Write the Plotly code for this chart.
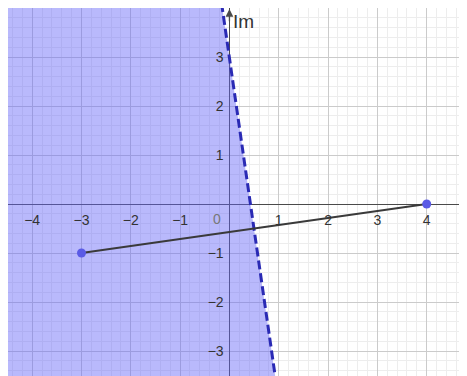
import plotly.graph_objects as go

# points z1 = -3 - i and z2 = 4 on the complex plane
seg_re = [-3, 4]
seg_im = [-1, 0]

# dashed boundary (perpendicular bisector)
boundary_re = [-0.16, 0.94]
boundary_im = [4.1, -3.6]

# shaded half-plane (left of the boundary)
shade_re = [-5, -0.16, 0.94, -5]
shade_im = [4.1, 4.1, -3.6, -3.6]

x_ticks = [-4, -3, -2, -1, 1, 2, 3, 4]
y_ticks = [-3, -2, -1, 1, 2, 3]

# the page keeps its 8px body margin, so the view starts a little in
X_RANGE = [-4.49, 4.817]
Y_RANGE = [-3.51, 4.0]

AXIS_COLOR = '#4a4a4a'
TEXT_COLOR = '#333333'
FONT = 'Arial, Liberation Sans'

fig = go.Figure()

fig.add_trace(go.Scatter(
    x=shade_re, y=shade_im, mode='lines', fill='toself',
    fillcolor='rgba(100,100,248,0.45)', line=dict(width=0),
    hoverinfo='skip', showlegend=False,
))

fig.add_trace(go.Scatter(
    x=boundary_re, y=boundary_im, mode='lines',
    line=dict(color='#2a2ab4', width=3, dash='9px,4px'),
    showlegend=False,
))

fig.add_trace(go.Scatter(
    x=seg_re, y=seg_im, mode='lines+markers',
    line=dict(color='#3a3a3a', width=2),
    marker=dict(size=9, color='#5a5ae6', line=dict(width=0)),
    showlegend=False,
))

x_pos = (0 - Y_RANGE[0]) / (Y_RANGE[1] - Y_RANGE[0])
y_pos = (0 - X_RANGE[0]) / (X_RANGE[1] - X_RANGE[0])

common = dict(
    showgrid=True, gridcolor='#cbcbcb', gridwidth=1,
    zeroline=True, zerolinecolor=AXIS_COLOR, zerolinewidth=1.3,
    showline=False, ticks='outside', ticklen=3, tickcolor='rgba(0,0,0,0)',
    tickfont=dict(family=FONT, size=14, color=TEXT_COLOR),
    minor=dict(dtick=0.2, showgrid=True, gridcolor='#ededed', gridwidth=1),
    anchor='free', fixedrange=True,
)

fig.update_xaxes(range=X_RANGE, tickvals=x_ticks, position=x_pos, **common)
fig.update_yaxes(range=Y_RANGE, tickvals=y_ticks, position=y_pos, **common)

# origin label and axis names
fig.add_annotation(x=0, y=0, text='0', showarrow=False, xanchor='right', yanchor='top',
                   xshift=-6, yshift=-5,
                   font=dict(family=FONT, size=14, color='#777777'))
fig.add_annotation(x=4.83, y=0, text='Re', showarrow=False, xanchor='right', yanchor='bottom',
                   yshift=-1, font=dict(family=FONT, size=19, color=TEXT_COLOR))
fig.add_annotation(x=0, y=4.0, text='Im', showarrow=False, xanchor='left', yanchor='top',
                   xshift=2, yshift=-1,
                   font=dict(family=FONT, size=19, color=TEXT_COLOR))
fig.add_annotation(x=0, y=3.98, ax=0, ay=3.7, xref='x', yref='y', axref='x', ayref='y',
                   showarrow=True, arrowhead=2, arrowsize=1.2, arrowwidth=1.3,
                   arrowcolor=AXIS_COLOR, text='')

fig.update_layout(
    width=459, height=368,
    margin=dict(l=0, r=0, t=0, b=0),
    paper_bgcolor='white', plot_bgcolor='white',
    showlegend=False,
)

fig.write_html("out.html")
